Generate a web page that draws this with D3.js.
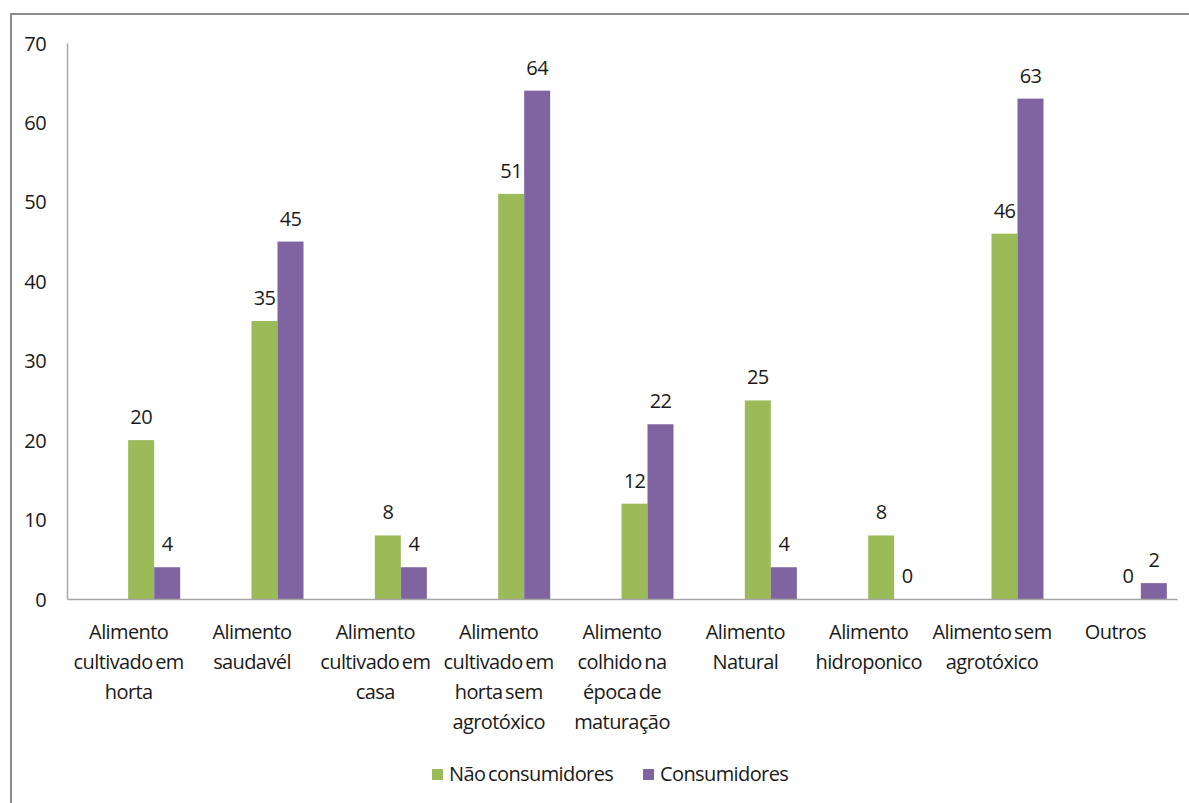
<!DOCTYPE html>
<html>
<head>
<meta charset="utf-8">
<script src="https://cdn.jsdelivr.net/npm/d3@7"></script>
<style>
  html, body { margin: 0; padding: 0; background: #fff; }
  svg text { font-family: "Open Sans", sans-serif; fill: #1a1a1a; letter-spacing: -0.6px; word-spacing: -2px; }
</style>
</head>
<body>
<svg id="chart" width="1189" height="803"></svg>
<script>
// Category labels, one entry per line of the wrapped label
const categories = [
  ["Alimento", "cultivado em", "horta"],
  ["Alimento", "saudavél"],
  ["Alimento", "cultivado em", "casa"],
  ["Alimento", "cultivado em", "horta sem", "agrotóxico"],
  ["Alimento", "colhido na", "época de", "maturação"],
  ["Alimento", "Natural"],
  ["Alimento", "hidroponico"],
  ["Alimento sem", "agrotóxico"],
  ["Outros"]
];
const seriesNames = ["Não consumidores", "Consumidores"];
const naoConsumidores = [20, 35, 8, 51, 12, 25, 8, 46, 0];
const consumidores = [4, 45, 4, 64, 22, 4, 0, 63, 2];
const yTicks = [0, 10, 20, 30, 40, 50, 60, 70];
const colors = ["#9bbb59", "#8064a2"];

const svg = d3.select("#chart");

// frame around the chart area
svg.append("path")
  .attr("d", "M11,803 V14 H1189")
  .attr("fill", "none")
  .attr("stroke", "#8c8c8c")
  .attr("stroke-width", 2);

const plot = { left: 67, right: 1177, top: 43, bottom: 599 };

const x = d3.scaleBand()
  .domain(d3.range(categories.length))
  .range([plot.left, plot.right]);

const y = d3.scaleLinear()
  .domain([0, 70])
  .range([plot.bottom, plot.top]);

// bar groups sit slightly right of their category labels
const groupShift = 25.5;
const barW = 26;
const xs = d3.scaleBand()
  .domain([0, 1])
  .range([-barW, barW]);

// y axis
const yAxis = d3.axisLeft(y).tickValues(yTicks).tickSize(0).tickPadding(21);
const gy = svg.append("g").attr("transform", `translate(${plot.left},0)`).call(yAxis);
gy.select(".domain").attr("stroke", "#a6a6a6").attr("stroke-width", 1.5);
gy.selectAll("text").style("font-size", "20px").attr("dy", "0.35em").attr("fill", "#1a1a1a")
  .style("font-family", "'Open Sans', sans-serif");

// bars
const data = categories.map((c, i) => [naoConsumidores[i], consumidores[i]]);
const groups = svg.append("g").selectAll("g")
  .data(data)
  .join("g")
  .attr("transform", (d, i) => `translate(${x(i) + x.bandwidth() / 2 + groupShift},0)`);

groups.selectAll("rect")
  .data(d => d.map((v, s) => ({ v, s })))
  .join("rect")
  .attr("x", d => xs(d.s))
  .attr("width", xs.bandwidth())
  .attr("y", d => y(d.v))
  .attr("height", d => y(0) - y(d.v))
  .attr("fill", d => colors[d.s]);

groups.selectAll("text.val")
  .data(d => d.map((v, s) => ({ v, s })))
  .join("text")
  .attr("class", "val")
  .attr("x", d => xs(d.s) + xs.bandwidth() / 2)
  .attr("y", d => y(d.v) - 16)
  .attr("text-anchor", "middle")
  .style("font-size", "20px")
  .text(d => d.v);

// x axis line
const xAxis = d3.axisBottom(x).tickSize(0).tickFormat("");
const gx = svg.append("g").attr("transform", `translate(0,${plot.bottom})`).call(xAxis);
gx.select(".domain").attr("stroke", "#a6a6a6").attr("stroke-width", 1.5);

// category labels
const catLabels = svg.append("g").selectAll("text")
  .data(categories)
  .join("text")
  .attr("text-anchor", "middle")
  .attr("x", (d, i) => x(i) + x.bandwidth() / 2)
  .attr("y", 639)
  .style("font-size", "20px");
catLabels.selectAll("tspan")
  .data(d => d)
  .join("tspan")
  .attr("x", function () { return d3.select(this.parentNode).attr("x"); })
  .attr("dy", (d, i) => i === 0 ? 0 : 30)
  .text(d => d);

// legend
const legendItems = [
  { name: seriesNames[0], color: colors[0], x: 432 },
  { name: seriesNames[1], color: colors[1], x: 643 }
];
const lg = svg.append("g").selectAll("g")
  .data(legendItems)
  .join("g")
  .attr("transform", d => `translate(${d.x},769)`);
lg.append("rect").attr("width", 11).attr("height", 11).attr("fill", d => d.color);
lg.append("text").attr("x", 17).attr("y", 12).style("font-size", "20px").text(d => d.name);
</script>
</body>
</html>
